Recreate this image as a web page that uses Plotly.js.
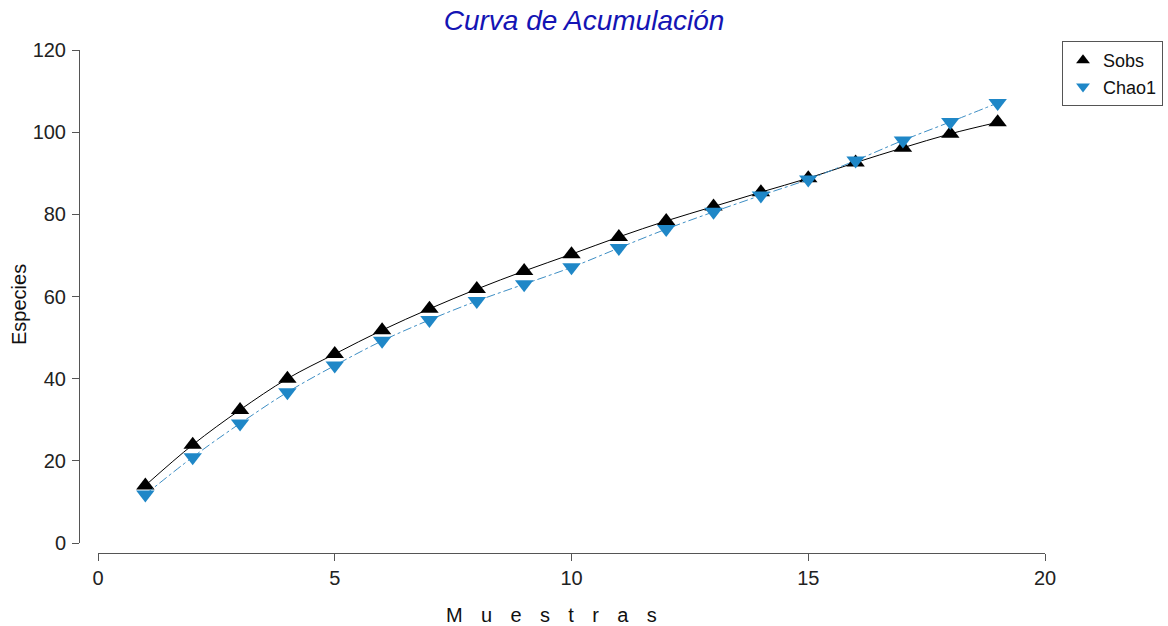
<!DOCTYPE html>
<html>
<head>
<meta charset="utf-8">
<script src="https://cdn.plot.ly/plotly-3.0.1.min.js"></script>
<style>html,body{margin:0;padding:0;background:#fff;}</style>
</head>
<body>
<div id="chart" style="width:1168px;height:626px;"></div>
<script>
// Data
const muestras = [1,2,3,4,5,6,7,8,9,10,11,12,13,14,15,16,17,18,19];
const sobs  = [14.0,23.9,32.4,40.0,46.0,51.8,57.0,61.8,66.2,70.3,74.5,78.4,81.9,85.4,88.8,92.6,96.2,99.6,102.4];
const chao1 = [11.8,20.9,29.1,36.7,43.2,49.2,54.3,58.9,63.0,67.1,71.8,76.4,80.6,84.6,88.5,93.1,98.0,102.5,107.1];
const xTicks = [0,5,10,15,20];
const yTicks = [0,20,40,60,80,100,120];
const titleText = 'Curva de Acumulación';
const xTitle = ['M','u','e','s','t','r','a','s'];
const yTitle = 'Especies';

const FONT = 'Arial, "Liberation Sans", sans-serif';
const BLUE = '#1f87c7';
const AX = '#555555';

const traces = [
  {x: muestras, y: sobs, mode: 'lines', line: {color: '#000000', width: 1, shape: 'spline'},
   showlegend: false, hoverinfo: 'skip'},
  {x: muestras, y: sobs, mode: 'markers', name: 'Sobs',
   marker: {symbol: 'triangle-up', size: 16, color: '#000000'}},
  {x: muestras, y: chao1, mode: 'lines', line: {color: '#3d8ec4', width: 1, dash: 'dashdot', shape: 'spline'},
   showlegend: false, hoverinfo: 'skip'},
  {x: muestras, y: chao1, mode: 'markers', name: 'Chao1', xaxis: 'x2', yaxis: 'y2',
   marker: {symbol: 'triangle-down', size: 16, color: BLUE}}
];

const W = 1168, H = 626, L = 79, R = 123, T = 50, B = 73;
const pw = W - L - R, ph = H - T - B;
const xDom = [19 / pw, 1], yDom = [10 / ph, 1];

const axBase = {
  showline: true, linecolor: AX, linewidth: 1,
  ticks: 'outside', ticklen: 7, tickwidth: 1, tickcolor: AX,
  showgrid: false, zeroline: false,
  tickfont: {family: FONT, size: 20, color: '#222'},
  anchor: 'free', position: 0, fixedrange: true, tickmode: 'array'
};

// second set of axes only adds the inner half of the crossing tick marks
const overBase = {
  tickmode: 'array', anchor: 'free', position: 0,
  ticks: 'outside', ticklen: 7, tickwidth: 1, tickcolor: AX,
  showticklabels: false, showline: false,
  showgrid: false, zeroline: false, fixedrange: true
};

const layout = {
  width: W, height: H,
  margin: {l: L, r: R, t: T, b: B, autoexpand: false},
  paper_bgcolor: '#ffffff', plot_bgcolor: 'rgba(0,0,0,0)',
  font: {family: FONT, color: '#222'},
  title: {text: titleText, xref: 'container', x: 0.5, xanchor: 'center',
          yref: 'container', y: 1 - 20 / H, yanchor: 'middle',
          font: {family: FONT, size: 28, style: 'italic', color: '#1414b4'}},
  xaxis: Object.assign({}, axBase, {domain: xDom, range: [0, 20], tickvals: xTicks}),
  yaxis: Object.assign({}, axBase, {domain: yDom, range: [0, 120], tickvals: yTicks, ticklabelstandoff: 2}),
  xaxis2: Object.assign({}, overBase, {overlaying: 'x', side: 'bottom', range: [0, 20], tickvals: xTicks}),
  yaxis2: Object.assign({}, overBase, {overlaying: 'y', side: 'left', range: [0, 120], tickvals: yTicks}),
  legend: {x: (1062 - L) / pw, y: (553 - 41) / ph, xanchor: 'left', yanchor: 'top',
           bordercolor: AX, borderwidth: 1, bgcolor: '#ffffff',
           font: {family: FONT, size: 18, color: '#111'}, itemsizing: 'constant', itemwidth: 30,
           tracegroupgap: 0},
  annotations: [
    {text: yTitle, xref: 'paper', yref: 'paper', x: (19 - L) / pw, y: (553 - 305) / ph,
     xanchor: 'center', yanchor: 'middle', textangle: -90, showarrow: false,
     font: {family: FONT, size: 20, color: '#111'}},
    {text: xTitle.join('\u00a0\u00a0\u00a0\u200a'), xref: 'paper', yref: 'paper',
     x: (551 - L) / pw, y: (553 - 615) / ph, xanchor: 'center', yanchor: 'middle', showarrow: false,
     font: {family: FONT, size: 20, color: '#111'}}
  ],
  showlegend: true
};

Plotly.newPlot('chart', traces, layout, {displayModeBar: false, staticPlot: true});
</script>
</body>
</html>
